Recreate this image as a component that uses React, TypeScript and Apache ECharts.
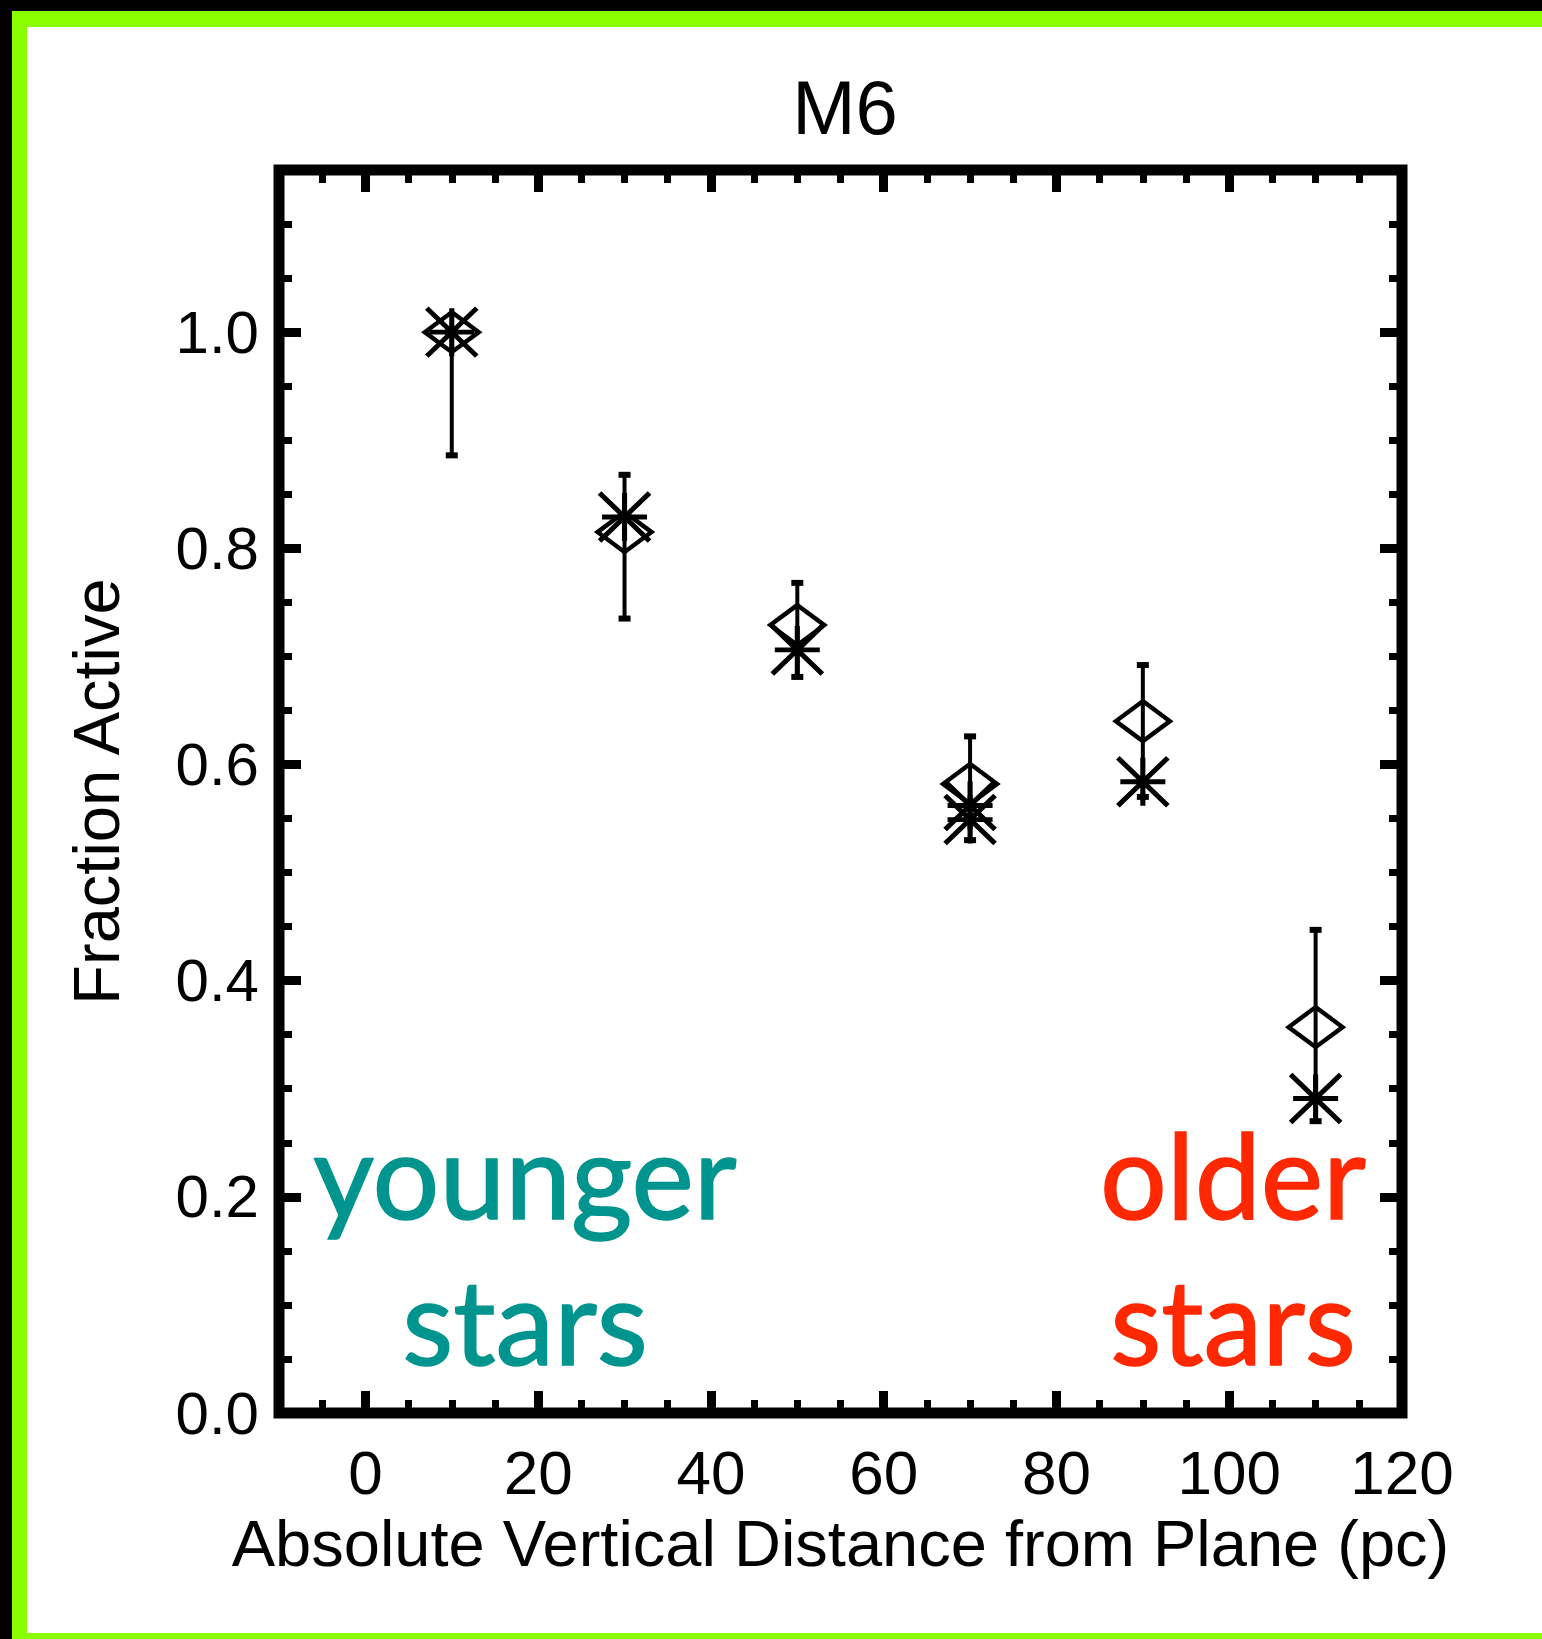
import React, { useEffect, useRef } from 'react';
import * as echarts from 'echarts';

// ---- data ----
const distance = [10, 30, 50, 70, 90, 110];
const diamondFraction = [1.0, 0.815, 0.729, 0.582, 0.64, 0.357];
const asteriskDistance = [10, 30, 50, 70, 70, 90, 110];
const asteriskFraction = [1.0, 0.829, 0.706, 0.562, 0.549, 0.584, 0.291];
const errLow = [0.886, 0.735, 0.681, 0.53, 0.57, 0.27];
const errHigh = [1.0, 0.868, 0.768, 0.626, 0.692, 0.447];

const xMajorTicks = [0, 20, 40, 60, 80, 100, 120];
const xMinorTicks = [-5, 5, 10, 15, 25, 30, 35, 45, 50, 55, 65, 70, 75, 85, 90, 95, 105, 110, 115];
const yMajorTicks = [0, 0.2, 0.4, 0.6, 0.8, 1.0];
const yMinorTicks = [0.05, 0.1, 0.15, 0.25, 0.3, 0.35, 0.45, 0.5, 0.55, 0.65, 0.7, 0.75, 0.85, 0.9, 0.95, 1.05, 1.1];

const X_MIN = -10;
const X_MAX = 120;
const Y_MIN = 0;
const Y_MAX = 1.15;

const FONT = 'Liberation Sans, Arial, Helvetica, sans-serif';
const ANNOT_FONT = 'Lato, "Noto Sans", sans-serif';
const TEAL = '#00948F';
const RED = '#FF2800';
const GREEN = '#8AFF00';

const DIAMOND = 'path://M0,-1L1,0L0,1L-1,0Z';
const ASTERISK = 'path://M-1,-1L1,1M-1,1L1,-1M-0.9,0L0.9,0M0,-1L0,1';

function xAxisDef(position: 'bottom' | 'top', ticks: number[], len: number, w: number, labels: boolean): any {
  return {
    type: 'value',
    position,
    min: X_MIN,
    max: X_MAX,
    axisLine: { show: false, onZero: false },
    splitLine: { show: false },
    axisTick: { show: true, inside: true, length: len, customValues: ticks, lineStyle: { color: '#000', width: w } },
    axisLabel: labels
      ? { show: true, customValues: xMajorTicks, fontSize: 62, color: '#000', fontFamily: FONT, margin: 28 }
      : { show: false },
  };
}

function yAxisDef(position: 'left' | 'right', ticks: number[], len: number, w: number, labels: boolean): any {
  return {
    type: 'value',
    position,
    min: Y_MIN,
    max: Y_MAX,
    axisLine: { show: false, onZero: false },
    splitLine: { show: false },
    axisTick: { show: true, inside: true, length: len, customValues: ticks, lineStyle: { color: '#000', width: w } },
    axisLabel: labels
      ? {
          show: true,
          customValues: yMajorTicks,
          fontSize: 60,
          color: '#000',
          fontFamily: FONT,
          margin: 20,
          formatter: (v: number) => v.toFixed(1),
        }
      : { show: false },
  };
}

function annot(text: string, x: number, y: number, color: string): any {
  return {
    type: 'text',
    silent: true,
    x,
    y,
    style: {
      text,
      fill: color,
      stroke: color,
      lineWidth: 1.5,
      font: `118px ${ANNOT_FONT}`,
      textAlign: 'center',
      textVerticalAlign: 'middle',
    },
  };
}

export default function App() {
  const ref = useRef<HTMLDivElement>(null);

  useEffect(() => {
    if (!ref.current) return;
    const chart = echarts.init(ref.current, null, { renderer: 'svg' });

    const xBottom = xAxisDef('bottom', xMajorTicks, 22, 9, true);
    xBottom.name = 'Absolute Vertical Distance from Plane (pc)';
    xBottom.nameLocation = 'middle';
    xBottom.nameGap = 98;
    xBottom.nameTextStyle = { fontSize: 65, color: '#000', fontFamily: FONT };

    const yLeft = yAxisDef('left', yMajorTicks, 22, 9, true);
    yLeft.name = 'Fraction Active';
    yLeft.nameLocation = 'middle';
    yLeft.nameGap = 150;
    yLeft.nameRotate = 90;
    yLeft.nameTextStyle = { fontSize: 65, color: '#000', fontFamily: FONT };

    const option: any = {
      animation: false,
      backgroundColor: '#fff',
      title: {
        text: 'M6',
        left: 840,
        top: 64,
        textAlign: 'center',
        textStyle: { fontSize: 76, fontWeight: 'normal', color: '#000', fontFamily: FONT },
      },
      grid: {
        left: 279,
        right: 140,
        top: 170,
        bottom: 226,
        show: true,
        borderColor: '#000',
        borderWidth: 11,
        backgroundColor: 'transparent',
      },
      xAxis: [
        xBottom,
        xAxisDef('bottom', xMinorTicks, 13, 7, false),
        xAxisDef('top', xMajorTicks, 22, 9, false),
        xAxisDef('top', xMinorTicks, 13, 7, false),
      ],
      yAxis: [
        yLeft,
        yAxisDef('left', yMinorTicks, 13, 7, false),
        yAxisDef('right', yMajorTicks, 22, 9, false),
        yAxisDef('right', yMinorTicks, 13, 7, false),
      ],
      series: [
        {
          type: 'custom',
          name: 'error',
          silent: true,
          xAxisIndex: 0,
          yAxisIndex: 0,
          data: distance.map((d, i) => [d, errLow[i], errHigh[i]]),
          encode: { x: 0, y: [1, 2] },
          renderItem: (params: any, api: any) => {
            const x = api.value(0);
            const lo = api.coord([x, api.value(1)]);
            const hi = api.coord([x, api.value(2)]);
            const cap = 6;
            return {
              type: 'group',
              children: [
                { type: 'line', shape: { x1: lo[0], y1: lo[1], x2: hi[0], y2: hi[1] }, style: { stroke: '#000', lineWidth: 4 } },
                { type: 'line', shape: { x1: hi[0] - cap, y1: hi[1], x2: hi[0] + cap, y2: hi[1] }, style: { stroke: '#000', lineWidth: 6 } },
                { type: 'line', shape: { x1: lo[0] - cap, y1: lo[1], x2: lo[0] + cap, y2: lo[1] }, style: { stroke: '#000', lineWidth: 6 } },
              ],
            };
          },
        },
        {
          type: 'scatter',
          name: 'diamond',
          silent: true,
          xAxisIndex: 0,
          yAxisIndex: 0,
          symbol: DIAMOND,
          symbolSize: [54, 40],
          itemStyle: { color: 'rgba(0,0,0,0)', borderColor: '#000', borderWidth: 4.5, opacity: 1 },
          data: distance.map((d, i) => [d, diamondFraction[i]]),
        },
        {
          type: 'scatter',
          name: 'asterisk',
          silent: true,
          xAxisIndex: 0,
          yAxisIndex: 0,
          symbol: ASTERISK,
          symbolSize: [50, 48],
          itemStyle: { color: 'rgba(0,0,0,0)', borderColor: '#000', borderWidth: 5, opacity: 1 },
          data: asteriskDistance.map((d, i) => [d, asteriskFraction[i]]),
        },
      ],
      graphic: [
        { type: 'rect', z: 100, silent: true, shape: { x: 0, y: 0, width: 1542, height: 11 }, style: { fill: '#000' } },
        { type: 'rect', z: 100, silent: true, shape: { x: 0, y: 0, width: 12, height: 1639 }, style: { fill: '#000' } },
        { type: 'rect', z: 100, silent: true, shape: { x: 12, y: 11, width: 1530, height: 16 }, style: { fill: GREEN } },
        { type: 'rect', z: 100, silent: true, shape: { x: 12, y: 11, width: 15, height: 1628 }, style: { fill: GREEN } },
        { type: 'rect', z: 100, silent: true, shape: { x: 12, y: 1633, width: 1530, height: 6 }, style: { fill: GREEN } },
        annot('younger', 525, 1173, TEAL),
        annot('stars', 525, 1319, TEAL),
        annot('older', 1233, 1173, RED),
        annot('stars', 1233, 1319, RED),
      ],
    };

    chart.setOption(option);
    return () => chart.dispose();
  }, []);

  return (
    <div
      ref={ref}
      style={{ position: 'absolute', left: 0, top: 0, width: 1542, height: 1639, background: '#fff' }}
    />
  );
}
